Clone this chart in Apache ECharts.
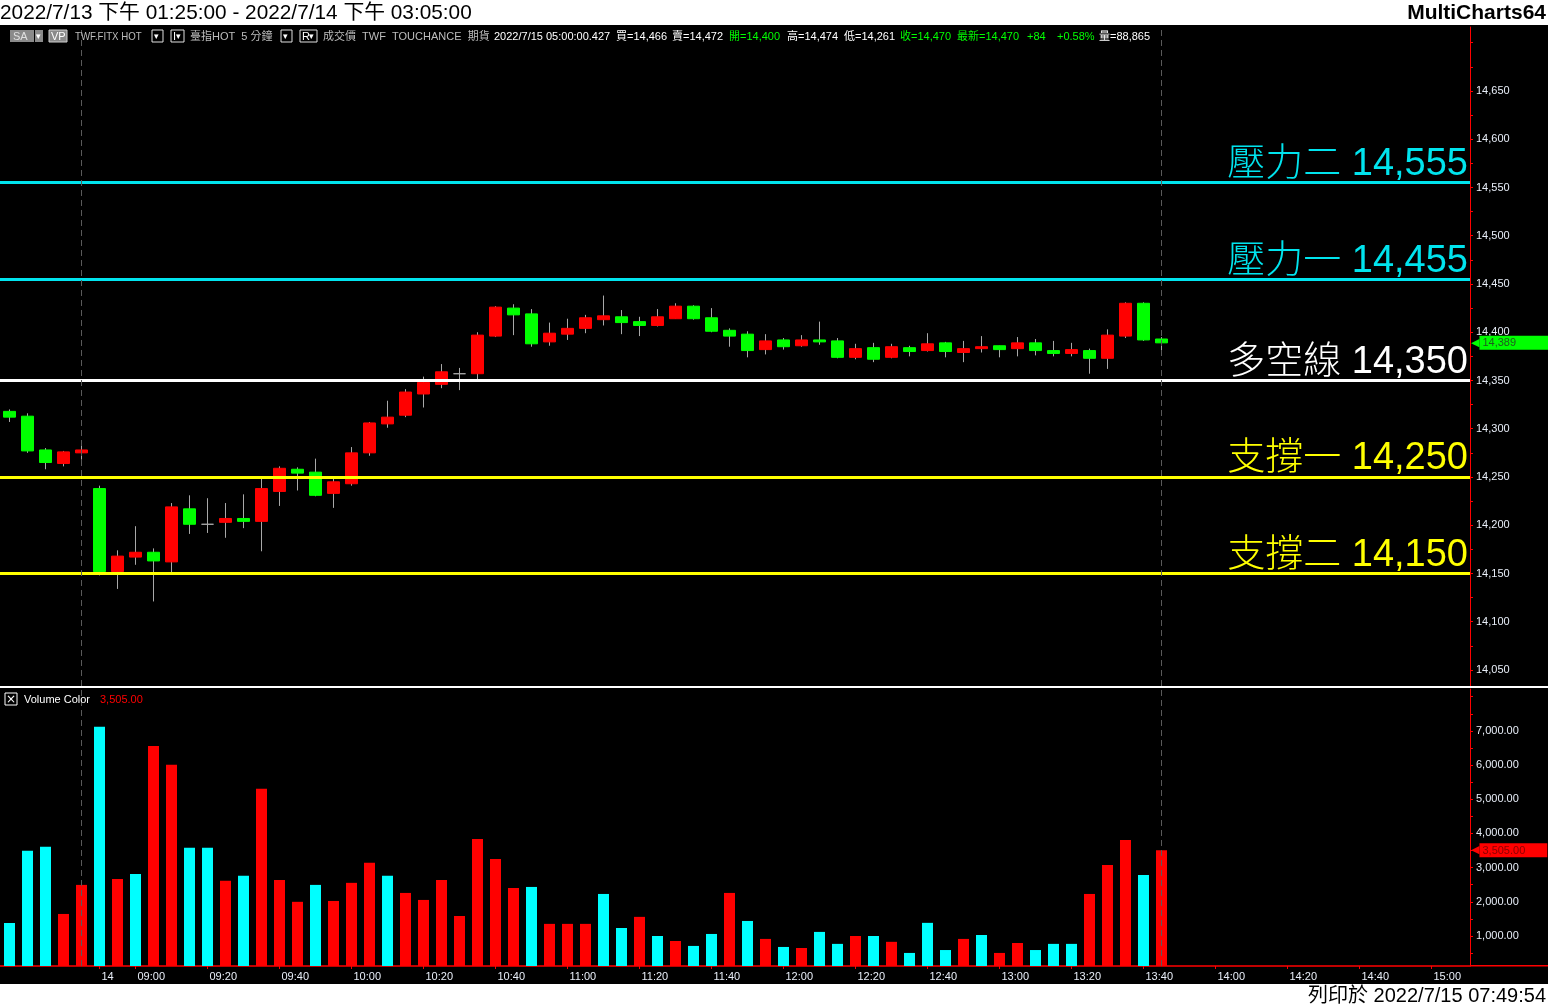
<!DOCTYPE html>
<html><head><meta charset="utf-8">
<script src="https://cdn.jsdelivr.net/npm/echarts@6/dist/echarts.min.js"></script>
<style>html,body{margin:0;padding:0;background:#fff;overflow:hidden}#c{width:1548px;height:1007px}</style>
</head><body><div id="c"></div>
<script>
// ---------- DATA ----------
const slotTimes = [
 '7/13 13:25','7/13 13:30','7/13 13:35','7/13 13:40','7/13 13:45',
 '7/14 08:50','7/14 08:55',
 '7/14 09:00','7/14 09:05','7/14 09:10','7/14 09:15','7/14 09:20','7/14 09:25','7/14 09:30','7/14 09:35','7/14 09:40','7/14 09:45','7/14 09:50','7/14 09:55',
 '7/14 10:00','7/14 10:05','7/14 10:10','7/14 10:15','7/14 10:20','7/14 10:25','7/14 10:30','7/14 10:35','7/14 10:40','7/14 10:45','7/14 10:50','7/14 10:55',
 '7/14 11:00','7/14 11:05','7/14 11:10','7/14 11:15','7/14 11:20','7/14 11:25','7/14 11:30','7/14 11:35','7/14 11:40','7/14 11:45','7/14 11:50','7/14 11:55',
 '7/14 12:00','7/14 12:05','7/14 12:10','7/14 12:15','7/14 12:20','7/14 12:25','7/14 12:30','7/14 12:35','7/14 12:40','7/14 12:45','7/14 12:50','7/14 12:55',
 '7/14 13:00','7/14 13:05','7/14 13:10','7/14 13:15','7/14 13:20','7/14 13:25','7/14 13:30','7/14 13:35','7/14 13:40','7/14 13:45','7/14 13:50','7/14 13:55',
 '7/14 14:00','7/14 14:05','7/14 14:10','7/14 14:15','7/14 14:20','7/14 14:25','7/14 14:30','7/14 14:35','7/14 14:40','7/14 14:45','7/14 14:50','7/14 14:55',
 '7/14 15:00','7/14 15:05','7/14 15:10'
];
const openP  = [14318,14313,14278,14264,14275,14238,14152,14167,14172,14162,14217,14201,14203,14207,14204,14235,14258,14255,14233,14243,14275,14305,
                14314,14336,14346,14357,14357,14396,14425,14419,14390,14398,14404,14413,14416,14411,14407,14414,14427,14415,14402,14398,14382,
                14392,14386,14392,14391,14374,14384,14374,14384,14381,14389,14379,14383,14386,14383,14389,14381,14378,14381,14373,14396,14430,14393];
const closeP = [14312,14277,14265,14276,14278,14152,14168,14172,14163,14219,14201,14201,14207,14204,14238,14259,14254,14231,14245,14275,14306,14312,
                14338,14348,14359,14357,14397,14426,14418,14388,14399,14404,14415,14417,14410,14407,14416,14427,14414,14401,14396,14381,14391,
                14385,14392,14390,14374,14383,14372,14385,14380,14388,14380,14383,14385,14382,14389,14381,14378,14382,14373,14397,14430,14392,14389];
const lowP   = [14307,14275,14258,14261,14268,14148,14134,14159,14121,14151,14191,14192,14187,14197,14173,14220,14236,14230,14218,14241,14272,14301,
                14312,14322,14342,14340,14351,14395,14397,14385,14386,14392,14399,14407,14398,14396,14406,14414,14413,14400,14385,14374,14377,
                14382,14385,14387,14373,14372,14369,14373,14375,14380,14374,14369,14379,14374,14375,14376,14375,14375,14357,14362,14394,14391,14376];
const highP  = [14320,14316,14280,14277,14284,14241,14174,14199,14176,14223,14231,14228,14223,14232,14249,14261,14260,14269,14249,14281,14307,14329,
                14341,14354,14367,14363,14400,14427,14429,14424,14410,14414,14418,14438,14423,14416,14424,14430,14428,14425,14404,14401,14398,
                14394,14397,14411,14394,14388,14389,14388,14386,14399,14390,14391,14396,14386,14395,14393,14391,14389,14383,14403,14431,14431,14395];
const volume = [1380,3490,3610,1645,2495,7120,2670,2815,6560,6005,3580,3580,2615,2760,5305,2640,2000,2495,2025,2555,3140,2760,
                2260,2055,2640,1585,3840,3255,2405,2435,1355,1355,1355,2230,1235,1560,1000,855,710,1060,2260,1440,915,680,650,
                1120,770,1000,1000,830,505,1385,590,915,1030,505,795,590,770,770,2230,3080,3810,2785,3505];
// 1 = up-volume (red), 0 = down-volume (cyan)
const volumeUp = [0,0,0,1,1,0,1,0,1,1,0,0,1,0,1,1,1,0,1,1,1,0,
                  1,1,1,1,1,1,1,0,1,1,1,0,0,1,0,1,0,0,1,0,1,0,1,
                  0,0,1,0,1,0,0,0,1,0,1,1,0,0,0,1,1,1,0,1];
const levelNames  = ['壓力二','壓力一','多空線','支撐一','支撐二'];
const levelValues = [14555,14455,14350,14250,14150];
const xTickTimes = ['7/14 08:50','7/14 09:00','7/14 09:20','7/14 09:40','7/14 10:00','7/14 10:20','7/14 10:40','7/14 11:00','7/14 11:20',
                    '7/14 11:40','7/14 12:00','7/14 12:20','7/14 12:40','7/14 13:00','7/14 13:20','7/14 13:40','7/14 14:00','7/14 14:20','7/14 14:40','7/14 15:00'];
const priceLabelTicks = [14050,14100,14150,14200,14250,14300,14350,14400,14450,14500,14550,14600,14650];
const priceMinorTicks = [14050,14075,14100,14125,14150,14175,14200,14225,14250,14275,14300,14325,14350,14375,14400,14425,14450,14475,14500,14525,14550,14575,14600,14625,14650,14675,14700];
const volumeLabelTicks = [1000,2000,3000,4000,5000,6000,7000];
const volumeMinorTicks = [500,1000,1500,2000,2500,3000,3500,4000,4500,5000,5500,6000,6500,7000,7500,8000];
const sessionBreaks = ['7/13 13:45','7/14 13:45'];
const headerRange = '2022/7/13 下午 01:25:00 - 2022/7/14 下午 03:05:00';
const printedAt = '列印於 2022/7/15 07:49:54';
const quoteItems = [
  ['2022/7/15 05:00:00.427','w'],['買=14,466','w'],['賣=14,472','w'],['開=14,400','g'],['高=14,474','w'],['低=14,261','w'],
  ['收=14,470','g'],['最新=14,470','g'],['+84','g'],['+0.58%','g'],['量=88,865','w']
];

// ---------- BUILD ----------
const FONT = "'Liberation Sans','Noto Sans CJK TC',sans-serif";
const fmt = v => v.toLocaleString('en-US');
const fmt2 = v => v.toLocaleString('en-US',{minimumFractionDigits:2,maximumFractionDigits:2});
const idxOf = t => slotTimes.indexOf(t);
const N = openP.length;
const lastPrice = closeP[N-1], lastVol = volume[N-1];
const xLabelOf = i => {
  const [d,t] = slotTimes[i].split(' ');
  const prev = slotTimes[i-1];
  return (!prev || prev.split(' ')[0] !== d) ? d.split('/')[1] : t;
};
const xTickIdx = xTickTimes.map(idxOf);
const levelColor = n => n.startsWith('壓力') ? '#00e4ee' : n.startsWith('支撐') ? '#ffff00' : '#ffffff';
const GRAY = '#a8a8a8';

const wickData = openP.map((o,i)=>[i,o,closeP[i],lowP[i],highP[i]]);
const bodyData = openP.map((o,i)=>{
  const c = closeP[i];
  const it = {value:[i,o,c,Math.min(o,c),Math.max(o,c)]};
  if (o === c) it.itemStyle = {color:GRAY,color0:GRAY,borderColor:GRAY,borderColor0:GRAY};
  return it;
});
const volData = volume.map((v,i)=>({value:[i,v],itemStyle:{color: volumeUp[i] ? '#ff0000' : '#00ffff'}}));

const XMIN = -0.528, XMAX = 81.139;
const axisLabelColor = '#e8eef8';

const sessionLines = sessionBreaks.map(t=>({xAxis: idxOf(t), lineStyle:{color:'#5a5a5a', type:[6,4], width:1}, label:{show:false}}));

// decorations
const g = [];
g.push({type:'rect', shape:{x:0,y:0,width:1548,height:25}, style:{fill:'#fff'}, z:100});
g.push({type:'rect', shape:{x:0,y:984,width:1548,height:23}, style:{fill:'#fff'}, z:100});
g.push({type:'text', x:0, y:13, z:101, style:{text:headerRange, fill:'#000', font:"20.8px "+FONT, verticalAlign:'middle'}});
g.push({type:'text', x:1546, y:13, z:101, style:{text:'MultiCharts64', fill:'#000', font:"bold 21px 'Liberation Sans',sans-serif", align:'right', verticalAlign:'middle'}});
g.push({type:'text', x:1546, y:996, z:101, style:{text:printedAt, fill:'#000', font:"20px "+FONT, align:'right', verticalAlign:'middle'}});
g.push({type:'rect', shape:{x:0,y:686,width:1548,height:2}, style:{fill:'#ffffff'}, z:50});
g.push({type:'rect', shape:{x:1470,y:965,width:78,height:1.5}, style:{fill:'#ff0000'}, z:50});
const box = (x,w,fill,stroke)=>({type:'rect', shape:{x:x,y:30,width:w,height:12}, style:{fill:fill, stroke:stroke||null, lineWidth:1}, z:60});
const txt = (x,t,col,font,sx)=>({type:'text', x:x, y:36.5, z:61, scaleX:sx||1, style:{text:t, fill:col, font:font||("11px "+FONT), verticalAlign:'middle'}});
const ARR = "9px 'DejaVu Sans'";
g.push(box(10,24,'#8a8a8a'), txt(13,'SA','#e0e0e0'), box(35,8,'#8a8a8a'), txt(36,'▾','#fff',ARR));
g.push(box(49,18,'#8a8a8a','#cfcfcf'), txt(51,'VP','#fff'));
g.push(txt(75,'TWF.FITX HOT','#bdbdbd',null,0.88));
g.push(box(152,11,'#000','#e0e0e0'), txt(154,'▾','#fff',ARR));
g.push(box(171,13,'#000','#e0e0e0'), txt(173,'I','#fff'), txt(176,'▾','#fff',ARR));
g.push(txt(190,'臺指HOT  5 分鐘','#bdbdbd'));
g.push(box(281,11,'#000','#e0e0e0'), txt(283,'▾','#fff',ARR));
g.push(box(300,17,'#000','#e0e0e0'), txt(302,'R','#fff'), txt(309,'▾','#fff',ARR));
g.push(txt(323,'成交價  TWF  TOUCHANCE  期貨','#bdbdbd'));
const qx = [494,616,672,729,787,844,900,957,1027,1057,1099];
quoteItems.forEach((q,k)=> g.push(txt(qx[k], q[0], q[1]==='g' ? '#00ff00' : '#ffffff')));
g.push({type:'rect', shape:{x:5,y:693,width:12,height:12}, style:{fill:'#000', stroke:'#ffffff', lineWidth:1}, z:60});
g.push({type:'text', x:11, y:699.5, z:61, style:{text:'×', fill:'#fff', font:"12px 'DejaVu Sans'", align:'center', verticalAlign:'middle'}});
g.push({type:'text', x:24, y:699.5, z:61, style:{text:'Volume Color', fill:'#fff', font:"11px "+FONT, verticalAlign:'middle'}});
g.push({type:'text', x:100, y:699.5, z:61, style:{text:fmt2(lastVol), fill:'#ff0000', font:"11px "+FONT, verticalAlign:'middle'}});

const option = {
  backgroundColor:'#000',
  animation:false,
  graphic: g,
  grid:[
    {left:0, right:78, top:27, height:659},
    {left:0, right:78, top:689, bottom:41}
  ],
  xAxis:[
    {gridIndex:0, type:'value', min:XMIN, max:XMAX, show:false, splitLine:{show:false}},
    {gridIndex:1, type:'value', min:XMIN, max:XMAX, splitLine:{show:false},
     axisLine:{show:true, onZero:false, lineStyle:{color:'#ff0000', width:1.5}},
     axisTick:{show:true, customValues:xTickIdx, length:3, lineStyle:{color:'#ff0000'}},
     axisLabel:{show:true, customValues:xTickIdx, formatter:v=>xLabelOf(Math.round(v)), color:axisLabelColor, fontSize:11, fontFamily:FONT, align:'left', margin:5, padding:[0,0,0,2]}}
  ],
  yAxis:[
    {gridIndex:0, type:'value', position:'right', min:14033.4, max:14716.3, splitLine:{show:false},
     axisLine:{show:true, onZero:false, lineStyle:{color:'#ff0000', width:1}},
     axisTick:{show:true, customValues:priceMinorTicks, length:3, lineStyle:{color:'#ff0000'}},
     axisLabel:{show:true, customValues:priceLabelTicks, formatter:v=>fmt(v), color:axisLabelColor, fontSize:11, fontFamily:FONT, margin:6}},
    {gridIndex:1, type:'value', position:'right', min:123, max:8224, splitLine:{show:false},
     axisLine:{show:true, onZero:false, lineStyle:{color:'#ff0000', width:1}},
     axisTick:{show:true, customValues:volumeMinorTicks, length:3, lineStyle:{color:'#ff0000'}},
     axisLabel:{show:true, customValues:volumeLabelTicks, formatter:v=>fmt2(v), color:axisLabelColor, fontSize:11, fontFamily:FONT, margin:6}}
  ],
  series:[
    {type:'candlestick', name:'wick', xAxisIndex:0, yAxisIndex:0, data:wickData, barWidth:1, silent:true,
     itemStyle:{color:GRAY, color0:GRAY, borderColor:GRAY, borderColor0:GRAY, borderWidth:1}},
    {type:'candlestick', name:'body', xAxisIndex:0, yAxisIndex:0, data:bodyData, barWidth:12, silent:true,
     itemStyle:{color:'#ff0000', color0:'#00ff00', borderColor:'#ff0000', borderColor0:'#00ff00', borderWidth:1},
     markLine:{symbol:['none','none'], silent:true, animation:false, precision:0,
       data:[
         ...levelValues.map((v,k)=>({yAxis:v, lineStyle:{color:levelColor(levelNames[k]), width:3, type:'solid'},
            label:{show:true, position:'insideEndTop', distance:[2,-1], formatter:levelNames[k]+' '+fmt(v),
                   color:levelColor(levelNames[k]), fontSize:38, fontFamily:FONT, fontWeight:300}})),
         ...sessionLines,
         {yAxis:lastPrice, lineStyle:{width:0, color:'rgba(0,0,0,0)'},
          label:{show:true, position:'end', distance:1, formatter:'{a|◀}{b|'+fmt(lastPrice)+'}',
                 rich:{a:{color:'#00ff00', fontSize:11, fontFamily:"'DejaVu Sans'"},
                       b:{backgroundColor:'#00ff00', color:'#1f5a1f', fontSize:11, fontFamily:FONT, padding:[2,34,1,3]}}}}
       ]}
    },
    {type:'bar', name:'volume', xAxisIndex:1, yAxisIndex:1, data:volData, barWidth:11, silent:true,
     markLine:{symbol:['none','none'], silent:true, animation:false,
       data:[
         ...sessionLines,
         {yAxis:lastVol, lineStyle:{width:0, color:'rgba(0,0,0,0)'},
          label:{show:true, position:'end', distance:1, formatter:'{a|◀}{b|'+fmt2(lastVol)+'}',
                 rich:{a:{color:'#ff0000', fontSize:11, fontFamily:"'DejaVu Sans'"},
                       b:{backgroundColor:'#ff0000', color:'#8a0000', fontSize:11, fontFamily:FONT, padding:[2,22,1,3]}}}}
       ]}
    }
  ]
};
const chart = echarts.init(document.getElementById('c'));
chart.setOption(option);
</script>
</body></html>
